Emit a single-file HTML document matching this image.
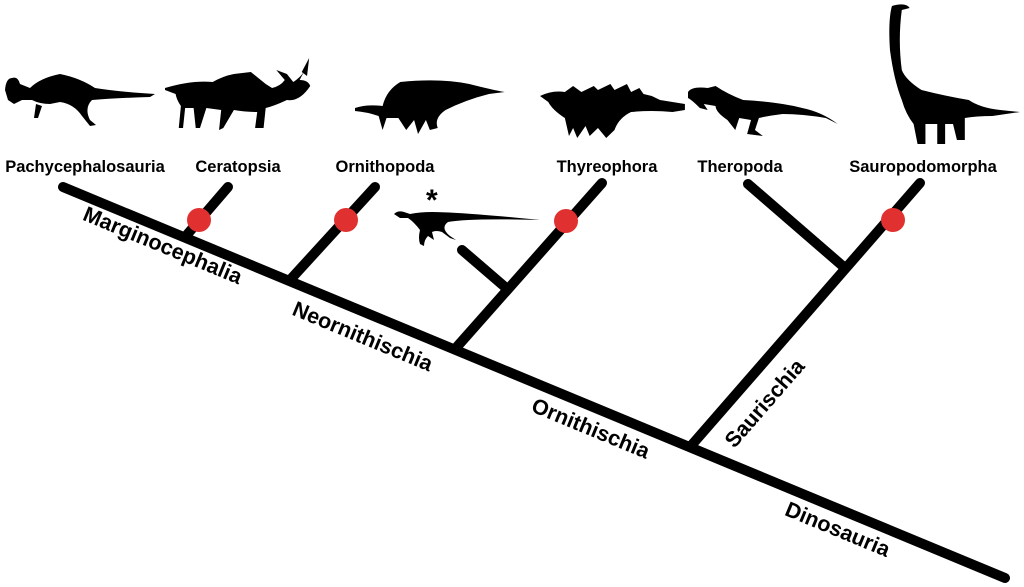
<!DOCTYPE html>
<html><head><meta charset="utf-8"><style>
html,body{margin:0;padding:0;background:#fff;}
svg{display:block;}
text{font-family:"Liberation Sans",Arial,sans-serif;font-weight:bold;fill:#000;}
</style></head><body>
<svg width="1024" height="587" viewBox="0 0 1024 587" xmlns="http://www.w3.org/2000/svg">
<g fill="#000">
<path d="M5,90 Q6,78 12,78 Q18,76 20,84 L30,88 Q40,78 60,74 Q80,78 95,88 Q120,92 155,94 L150,97 Q115,98 92,100 Q84,108 90,120 L96,125 L90,126 L82,116 Q74,104 60,102 L50,104 Q40,104 32,100 L22,100 L14,104 L8,100 Z"/>
<path d="M36,104 L34,118 L38,118 L42,106 Z"/>
<g transform="translate(165,0) scale(1.06,1) translate(-85,0)">
<path d="M85,88 Q110,80 130,82 Q140,76 150,74 L166,72 L180,84 L186,88 Q194,86 198,80 L190,70 L200,74 L206,82 Q212,78 216,72 L212,80 Q220,80 222,86 Q212,102 200,100 Q188,106 180,108 L178,128 L170,128 L172,112 Q160,112 150,110 L140,128 L136,130 L138,110 L124,108 L118,128 L114,128 L112,108 L104,108 L102,128 L98,128 L100,106 Q96,100 95,94 Q90,92 85,90 Z"/>
<path d="M214,72 L221,58 L219,76 Z"/>
</g>
<g transform="translate(355,0) scale(1.97,1) translate(-182,0)">
<path d="M182,108 Q188,104 196,106 Q198,90 205,82 Q225,78 240,84 Q252,90 258,92 L250,94 Q238,100 228,110 Q222,118 224,128 L220,130 L218,120 L214,134 L212,120 L208,130 L204,118 L198,118 L196,130 L194,116 Q188,112 182,111 Z"/>
</g>
<g transform="translate(540,0) scale(2.07,1) translate(-276,0)">
<path d="M276,96 Q282,90 288,92 L292,86 L296,92 L302,86 L304,90 L310,84 L312,90 L318,84 L320,92 L324,88 L326,94 L330,96 L334,100 L340,102 L346,104 L346,110 L340,112 Q330,110 320,112 Q314,118 312,130 L308,138 L304,128 L300,136 L298,126 L294,138 L292,128 L290,136 L288,118 Q282,110 280,102 Z"/>
</g>
<g transform="translate(688,0) scale(1.97,1) translate(-352,0)">
<path d="M352,92 Q354,86 362,88 L366,86 Q372,94 380,100 Q398,102 410,108 Q420,112 428,124 L422,118 Q410,114 400,114 Q392,116 388,118 L386,130 L390,136 L382,134 L384,120 L378,118 L376,130 L372,120 Q366,112 366,106 L360,104 L362,110 L358,108 Q354,100 352,98 Z"/>
</g>
<g transform="translate(888,0) scale(1.97,1) translate(-453,0)">
<path d="M455,6 Q462,2 464,8 L460,10 Q458,40 460,70 Q462,80 470,90 Q482,96 494,100 Q500,108 510,110 L520,112 L506,116 Q498,116 492,118 L492,140 L488,140 L486,124 L482,124 L482,144 L478,144 L478,124 L472,124 L472,144 L468,144 L466,124 Q462,114 460,100 Q456,80 454,50 Q453,20 455,6 Z"/>
</g>
<path d="M394,214 Q398,210 404,212 L410,214 Q420,212 432,212 Q460,212 540,220 Q470,218 448,222 Q440,228 450,236 L456,240 L450,238 L442,232 Q436,230 432,232 L434,240 L428,236 Q424,240 424,246 L420,244 Q418,238 420,230 Q414,222 408,218 L400,218 Z"/>
</g>
<text x="426" y="210" font-size="30">*</text>
<g font-size="16.5" text-anchor="middle">
<text x="85" y="172">Pachycephalosauria</text>
<text x="238" y="172">Ceratopsia</text>
<text x="385" y="172">Ornithopoda</text>
<text x="607" y="172">Thyreophora</text>
<text x="740" y="172">Theropoda</text>
<text x="923" y="172">Sauropodomorpha</text>
</g>
<g stroke="#000" stroke-width="10" stroke-linecap="round" fill="none">
<line x1="63" y1="187" x2="1005" y2="578"/>
<line x1="185" y1="237" x2="228" y2="187"/>
<line x1="290" y1="280" x2="375" y2="187"/>
<line x1="455" y1="349" x2="602" y2="183"/>
<line x1="462" y1="250" x2="505" y2="287"/>
<line x1="690" y1="447" x2="920" y2="183"/>
<line x1="748" y1="184" x2="845" y2="268"/>
</g>
<g fill="#e03030">
<circle cx="199" cy="220" r="12"/>
<circle cx="346" cy="220" r="12"/>
<circle cx="566" cy="221" r="12"/>
<circle cx="893" cy="220" r="12"/>
</g>
<g font-size="21.5">
<text transform="translate(160,252) rotate(22.5)" text-anchor="middle">Marginocephalia</text>
<text transform="translate(360,343) rotate(22.5)" text-anchor="middle">Neornithischia</text>
<text transform="translate(588,435) rotate(22.5)" text-anchor="middle">Ornithischia</text>
<text transform="translate(835,536) rotate(22.5)" text-anchor="middle">Dinosauria</text>
<text transform="translate(770,408) rotate(-49)" text-anchor="middle">Saurischia</text>
</g>
</svg>
</body></html>
